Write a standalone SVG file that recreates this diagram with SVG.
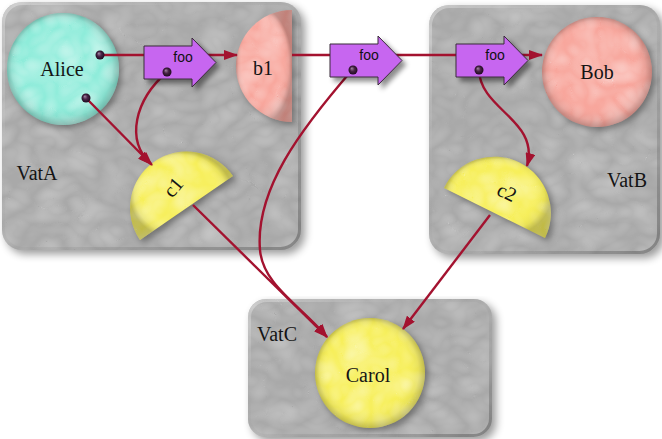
<svg xmlns="http://www.w3.org/2000/svg" width="662" height="439" viewBox="0 0 662 439">
<style>
.vat{fill:#a9a9a9;filter:url(#vatF)}
.vatEdge{fill:none;stroke:url(#vatBevel);stroke-width:3}
.lbl{font-size:20px;fill:#141414;text-anchor:middle}
.foo{font-size:14px;fill:#111;text-anchor:middle}
.shade{fill:url(#shade)}
.cn{fill:none;stroke:#a3122f;stroke-width:2.4;marker-end:url(#ah)}
.dot{fill:url(#dotG)}
.arr{fill:#c766f0;stroke:#3a2a3a;stroke-width:1;filter:url(#arrF)}
</style>
<defs>
<filter id="vatF" x="-5%" y="-5%" width="115%" height="115%" color-interpolation-filters="sRGB">
  <feTurbulence type="turbulence" baseFrequency="0.03 0.04" numOctaves="2" seed="11" result="n"/>
  <feColorMatrix in="n" type="matrix" values="0 0 0 0 1  0 0 0 0 1  0 0 0 0 1  1.2 0 0 0 -0.05" result="w"/>
  <feComposite in="w" in2="SourceAlpha" operator="in" result="wc"/>
  <feComponentTransfer in="wc" result="wc2"><feFuncA type="linear" slope="0.32"/></feComponentTransfer>
  <feGaussianBlur in="SourceAlpha" stdDeviation="4" result="b"/>
  <feOffset in="b" dx="4" dy="4" result="ob"/>
  <feComponentTransfer in="ob" result="sh"><feFuncA type="linear" slope="0.4"/></feComponentTransfer>
  <feMerge><feMergeNode in="sh"/><feMergeNode in="SourceGraphic"/><feMergeNode in="wc2"/></feMerge>
</filter>
<filter id="nodeF" x="-10%" y="-10%" width="130%" height="130%" color-interpolation-filters="sRGB">
  <feTurbulence type="turbulence" baseFrequency="0.035" numOctaves="2" seed="4" result="n"/>
  <feColorMatrix in="n" type="matrix" values="0 0 0 0 1  0 0 0 0 1  0 0 0 0 1  1.3 0 0 0 -0.05" result="w"/>
  <feComposite in="w" in2="SourceAlpha" operator="in" result="wc"/>
  <feComponentTransfer in="wc" result="wc2"><feFuncA type="linear" slope="0.5"/></feComponentTransfer>
  <feGaussianBlur in="SourceAlpha" stdDeviation="3" result="b"/>
  <feOffset in="b" dx="3" dy="3" result="ob"/>
  <feComponentTransfer in="ob" result="sh"><feFuncA type="linear" slope="0.35"/></feComponentTransfer>
  <feMerge><feMergeNode in="sh"/><feMergeNode in="SourceGraphic"/><feMergeNode in="wc2"/></feMerge>
</filter>
<filter id="arrF" x="-20%" y="-20%" width="150%" height="160%">
  <feDropShadow dx="4" dy="4" stdDeviation="2.5" flood-color="#000" flood-opacity="0.45"/>
</filter>
<radialGradient id="shade" cx="0.5" cy="0.5" r="0.5" fx="0.4" fy="0.35">
  <stop offset="0" stop-color="#fff" stop-opacity="0.12"/>
  <stop offset="0.72" stop-color="#fff" stop-opacity="0"/>
  <stop offset="0.9" stop-color="#000" stop-opacity="0.06"/>
  <stop offset="1" stop-color="#000" stop-opacity="0.22"/>
</radialGradient>
<linearGradient id="vatBevel" x1="0" y1="0" x2="1" y2="1">
  <stop offset="0" stop-color="#fff" stop-opacity="0.35"/>
  <stop offset="0.5" stop-color="#888" stop-opacity="0.1"/>
  <stop offset="1" stop-color="#444" stop-opacity="0.45"/>
</linearGradient>
<radialGradient id="dotG" cx="0.5" cy="0.5" r="0.5" fx="0.35" fy="0.3">
  <stop offset="0" stop-color="#a58aa5"/>
  <stop offset="0.5" stop-color="#4a2448"/>
  <stop offset="1" stop-color="#1e0a1e"/>
</radialGradient>
<marker id="ah" markerWidth="14" markerHeight="10" refX="13" refY="5" orient="auto" markerUnits="userSpaceOnUse">
  <path d="M0,0 L14,5 L0,10 z" fill="#a3122f"/>
</marker>
<polygon id="arrShape" points="0,0 48,0 48,-8 72,16.5 48,41 48,33 0,33"/>
</defs>

<g id="VatA">
  <rect class="vat" x="2" y="2" width="299" height="248" rx="20"/>
  <rect class="vatEdge" x="3.5" y="3.5" width="296" height="245" rx="19"/>
  <text class="lbl" font-family="'Liberation Serif', 'DejaVu Serif', serif" x="37" y="180">VatA</text>
</g>
<g id="VatB">
  <rect class="vat" x="429" y="5" width="231" height="249" rx="20"/>
  <rect class="vatEdge" x="430.5" y="6.5" width="228" height="246" rx="19"/>
  <text class="lbl" font-family="'Liberation Serif', 'DejaVu Serif', serif" x="627" y="187">VatB</text>
</g>
<g id="VatC">
  <rect class="vat" x="248" y="299" width="244" height="138" rx="18"/>
  <rect class="vatEdge" x="249.5" y="300.5" width="241" height="135" rx="17"/>
  <text class="lbl" font-family="'Liberation Serif', 'DejaVu Serif', serif" x="277" y="341">VatC</text>
</g>

<g id="Alice">
  <circle cx="63" cy="69" r="56" fill="#8eecda" filter="url(#nodeF)"/>
  <circle class="shade" cx="63" cy="69" r="56"/>
  <text class="lbl" font-family="'Liberation Serif', 'DejaVu Serif', serif" x="62" y="76">Alice</text>
</g>
<g id="b1">
  <path d="M292,10 A56,56 0 0 0 292,122 Z" fill="#f8a69c" filter="url(#nodeF)"/>
  <path class="shade" d="M292,10 A56,56 0 0 0 292,122 Z"/>
  <text class="lbl" font-family="'Liberation Serif', 'DejaVu Serif', serif" x="263" y="75">b1</text>
</g>
<g id="Bob">
  <circle cx="597" cy="72" r="55" fill="#f8a69c" filter="url(#nodeF)"/>
  <circle class="shade" cx="597" cy="72" r="55"/>
  <text class="lbl" font-family="'Liberation Serif', 'DejaVu Serif', serif" x="597" y="79">Bob</text>
</g>
<g id="c1">
  <path d="M233,176 A56,56 0 0 0 140,240 Z" fill="#f7ef5a" filter="url(#nodeF)"/>
  <path class="shade" d="M233,176 A56,56 0 0 0 140,240 Z"/>
  <text class="lbl" font-family="'Liberation Serif', 'DejaVu Serif', serif" transform="translate(173,187) rotate(-50)" x="0" y="7">c1</text>
</g>
<g id="c2">
  <path d="M444,188 A56,56 0 0 1 545,238 Z" fill="#f7ef5a" filter="url(#nodeF)"/>
  <path class="shade" d="M444,188 A56,56 0 0 1 545,238 Z"/>
  <text class="lbl" font-family="'Liberation Serif', 'DejaVu Serif', serif" transform="translate(507,192) rotate(26)" x="0" y="7">c2</text>
</g>
<g id="Carol">
  <circle cx="370" cy="373" r="55" fill="#f7ef5a" filter="url(#nodeF)"/>
  <circle class="shade" cx="370" cy="373" r="55"/>
  <text class="lbl" font-family="'Liberation Serif', 'DejaVu Serif', serif" x="368" y="382">Carol</text>
</g>

<g id="connectors">
  <path class="cn" d="M100,55 L237,55"/>
  <path class="cn" d="M292,55 L542,55"/>
  <path class="cn" d="M86,98 L152,165"/>
  <path class="cn" d="M167,72 C135,100 125,140 151,164"/>
  <path class="cn" d="M193,205 L327,337"/>
  <path class="cn" d="M353,69 C300,130 255,190 260,250 C263,285 300,305 327,337"/>
  <path class="cn" d="M479,70 C480,110 540,120 527,166"/>
  <path class="cn" d="M490,215 L403,329"/>
</g>

<g id="foo1" transform="translate(144,46)">
  <use href="#arrShape" class="arr"/>
  <text class="foo" font-family="'Liberation Sans', Arial, sans-serif" x="39" y="16">foo</text>
  <circle class="dot" cx="23" cy="26" r="4.5"/>
</g>
<g id="foo2" transform="translate(330,44)">
  <use href="#arrShape" class="arr"/>
  <text class="foo" font-family="'Liberation Sans', Arial, sans-serif" x="39" y="16">foo</text>
  <circle class="dot" cx="23" cy="26" r="4.5"/>
</g>
<g id="foo3" transform="translate(456,44)">
  <use href="#arrShape" class="arr"/>
  <text class="foo" font-family="'Liberation Sans', Arial, sans-serif" x="39" y="16">foo</text>
  <circle class="dot" cx="23" cy="26" r="4.5"/>
</g>
<g id="AliceDots">
  <circle class="dot" cx="100" cy="55" r="4.5"/>
  <circle class="dot" cx="86" cy="98" r="4.5"/>
</g>
</svg>
